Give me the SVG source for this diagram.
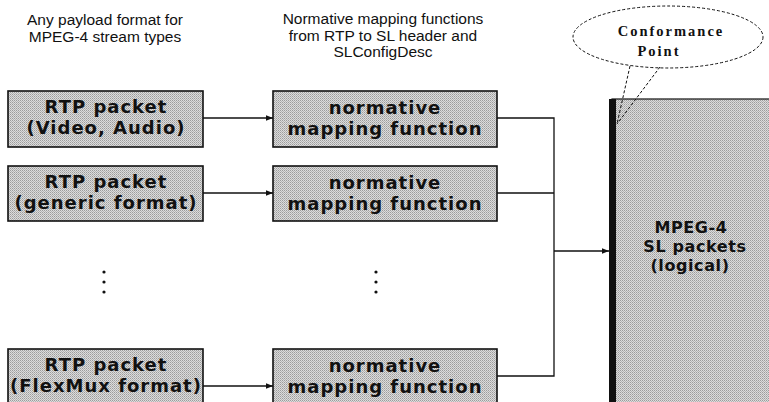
<svg xmlns="http://www.w3.org/2000/svg" width="769" height="402" viewBox="0 0 769 402">
  <style>
    .hdr { font-family: "Liberation Sans", Arial, sans-serif; font-size: 15.5px; fill: #111; text-anchor: middle; }
    .box { fill: url(#dither); stroke: #111; stroke-width: 1.6; }
    .lbl { font-family: "DejaVu Sans", "Liberation Sans", sans-serif; font-weight: bold; font-size: 18px; letter-spacing: 1px; fill: #111; text-anchor: middle; }
    .sl { font-family: "DejaVu Sans", "Liberation Sans", sans-serif; font-weight: bold; font-size: 16px; letter-spacing: 0.6px; fill: #111; text-anchor: middle; }
    .cp { font-family: "Liberation Serif", "Times New Roman", serif; font-weight: bold; font-size: 14.5px; fill: #111; letter-spacing: 2px; text-anchor: middle; }
    .wire { fill: none; stroke: #111; stroke-width: 1.3; }
    .dash { fill: none; stroke: #111; stroke-width: 1; stroke-dasharray: 3 2; }
    .dot { fill: #111; }
  </style>
  <defs>
    <!-- halftone grey used by all shaded boxes -->
    <pattern id="dither" width="2" height="2" patternUnits="userSpaceOnUse">
      <rect width="2" height="2" fill="#dcdcdc"/>
      <rect width="1" height="1" fill="#9c9c9c"/>
      <rect x="1" y="1" width="1" height="1" fill="#b4b4b4"/>
    </pattern>
    <marker id="arrow" viewBox="0 0 10 10" refX="10" refY="5" markerWidth="7" markerHeight="7" markerUnits="userSpaceOnUse" orient="auto">
      <path d="M0,1 L10,5 L0,9 z" fill="#111"/>
    </marker>
  </defs>

  <!-- column headings -->
  <g id="heading-payload">
    <text class="hdr" x="105" y="25">Any payload format for</text>
    <text class="hdr" x="105" y="42">MPEG-4 stream types</text>
  </g>
  <g id="heading-mapping">
    <text class="hdr" x="383" y="24">Normative mapping functions</text>
    <text class="hdr" x="383" y="41">from RTP to SL header and</text>
    <text class="hdr" x="383" y="57">SLConfigDesc</text>
  </g>

  <!-- RTP packet column -->
  <g id="rtp-video-audio">
    <rect class="box" x="8" y="91" width="195" height="56"/>
    <text class="lbl" x="106" y="113">RTP packet</text>
    <text class="lbl" x="106" y="134">(Video, Audio)</text>
  </g>
  <g id="rtp-generic">
    <rect class="box" x="8" y="166" width="195" height="55"/>
    <text class="lbl" x="106" y="188">RTP packet</text>
    <text class="lbl" x="106" y="209">(generic format)</text>
  </g>
  <g id="rtp-ellipsis">
    <circle class="dot" cx="104" cy="272" r="1.6"/>
    <circle class="dot" cx="104" cy="282" r="1.6"/>
    <circle class="dot" cx="104" cy="292" r="1.6"/>
  </g>
  <g id="rtp-flexmux">
    <rect class="box" x="8" y="349" width="195" height="60"/>
    <text class="lbl" x="106" y="371">RTP packet</text>
    <text class="lbl" x="106" y="392">(FlexMux format)</text>
  </g>

  <!-- mapping function column -->
  <g id="map-1">
    <rect class="box" x="273" y="91" width="224" height="56"/>
    <text class="lbl" x="385" y="114">normative</text>
    <text class="lbl" x="385" y="135">mapping function</text>
  </g>
  <g id="map-2">
    <rect class="box" x="273" y="166" width="224" height="55"/>
    <text class="lbl" x="385" y="189">normative</text>
    <text class="lbl" x="385" y="210">mapping function</text>
  </g>
  <g id="map-ellipsis">
    <circle class="dot" cx="376" cy="272" r="1.6"/>
    <circle class="dot" cx="376" cy="282" r="1.6"/>
    <circle class="dot" cx="376" cy="292" r="1.6"/>
  </g>
  <g id="map-3">
    <rect class="box" x="273" y="349" width="224" height="60"/>
    <text class="lbl" x="385" y="372">normative</text>
    <text class="lbl" x="385" y="393">mapping function</text>
  </g>

  <!-- SL packet stream at the conformance point -->
  <g id="sl-packets">
    <rect x="612" y="99" width="170" height="320" fill="url(#dither)" stroke="#111" stroke-width="1.2"/>
    <rect x="609" y="99" width="7" height="310" fill="#111"/>
    <text class="sl" x="691" y="233">MPEG-4</text>
    <text class="sl" x="695" y="252">SL packets</text>
    <text class="sl" x="690" y="271">(logical)</text>
  </g>

  <!-- callout -->
  <g id="conformance-point">
    <ellipse class="dash" cx="668" cy="37" rx="95" ry="31"/>
    <path class="dash" d="M630,66 L617,124 M660,67 L617,124"/>
    <text class="cp" x="671" y="36">Conformance</text>
    <text class="cp" x="659" y="56">Point</text>
  </g>

  <!-- connectors -->
  <g id="connectors">
    <line class="wire" x1="203" y1="118" x2="273" y2="118" marker-end="url(#arrow)"/>
    <line class="wire" x1="203" y1="193" x2="273" y2="193" marker-end="url(#arrow)"/>
    <line class="wire" x1="203" y1="386" x2="273" y2="386" marker-end="url(#arrow)"/>
    <path class="wire" d="M497,118 H554 V376 H497 M497,193 H554"/>
    <line class="wire" x1="554" y1="251" x2="609" y2="251" marker-end="url(#arrow)"/>
  </g>
</svg>
